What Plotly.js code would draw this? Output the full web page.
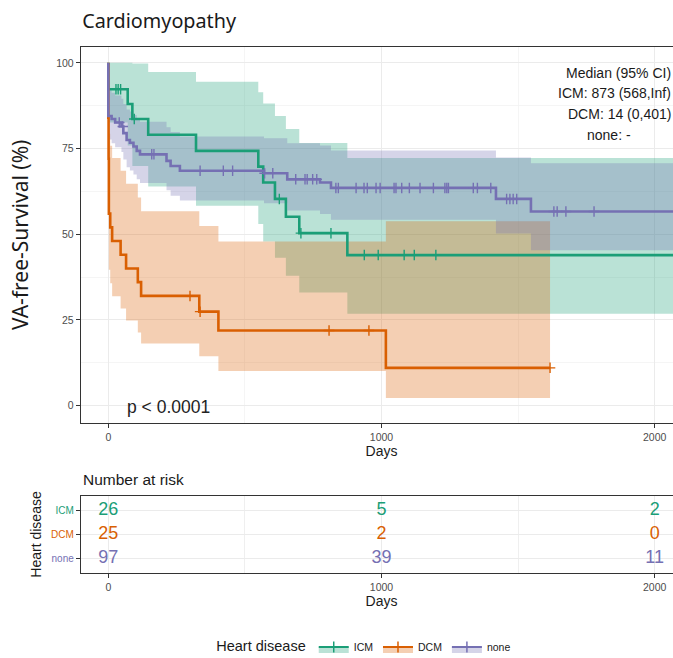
<!DOCTYPE html>
<html><head><meta charset="utf-8">
<script src="https://cdn.plot.ly/plotly-3.0.1.min.js"></script>
<style>html,body{margin:0;padding:0;overflow:hidden;background:#fff}#plot{width:700px;height:658px}</style>
</head><body><div id="plot"></div>
<script>
// ---------- data ----------
const groupNames = ['ICM', 'DCM', 'none'];
const groupColors = ['#1B9E77', '#D95F02', '#7570B3'];
const groupFills = ['rgba(27,158,119,0.3)', 'rgba(217,95,2,0.3)', 'rgba(117,112,179,0.3)'];

// ICM
const icmTime  = [0, 0, 71, 88, 146, 321, 549, 567, 610, 650, 699, 875, 2100];
const icmSurv  = [100, 92.3, 88.0, 83.6, 79.0, 74.3, 69.7, 65.1, 60.3, 55.1, 50.3, 43.9, 43.9];
const icmUpper = [100, 100, 100, 99.8, 97.3, 94.5, 91.4, 88.1, 84.5, 80.7, 76.6, 72.2, 72.2];
const icmLower = [100, 82.6, 75.9, 69.9, 63.9, 58.3, 53.0, 47.9, 43.1, 37.9, 33.0, 26.8, 26.8];
const icmCensorTime = [28, 36, 45, 95, 626, 705, 815, 937, 988, 1083, 1120, 1199];
const icmCensorSurv = [92.3, 92.3, 92.3, 83.6, 60.3, 50.3, 50.3, 43.9, 43.9, 43.9, 43.9, 43.9];

// DCM
const dcmTime  = [0, 0, 1, 2, 7, 14, 45, 65, 108, 120, 333, 403, 1016, 1617];
const dcmSurv  = [100, 84, 72, 56, 52, 48, 44, 40, 36, 32, 27.4, 21.9, 11.0, 11.0];
const dcmUpper = [100, 99.7, 91.9, 79.3, 75.8, 72.2, 68.5, 64.7, 60.7, 56.7, 52.4, 47.9, 53.8, 53.8];
const dcmLower = [100, 70.8, 56.4, 39.6, 35.7, 31.9, 28.3, 24.8, 21.3, 18.1, 14.4, 10.1, 2.2, 2.2];
const dcmCensorTime = [299, 336, 808, 954, 1617];
const dcmCensorSurv = [32, 27.4, 21.9, 21.9, 11.0];

// none
const noneTime  = [0, 0, 12, 25, 48, 55, 67, 79, 92, 104, 116, 213, 228, 262, 570, 655, 775, 815, 1419, 1547, 2100];
const noneSurv  = [100, 84.5, 83.6, 82.6, 81.4, 79.5, 77.5, 76.7, 75.6, 74.3, 73.3, 71.4, 69.9, 68.5, 67.8, 66.0, 65.1, 63.5, 60.3, 56.6, 56.6];
const noneUpper = [100, 92.0, 91.3, 90.5, 89.5, 88.0, 86.4, 85.8, 84.8, 83.6, 82.8, 81.2, 79.8, 78.5, 78.0, 76.5, 75.9, 74.4, 72.4, 70.7, 70.7];
const noneLower = [100, 77.6, 76.5, 75.4, 74.0, 71.8, 69.5, 68.6, 67.4, 66.0, 64.9, 62.8, 61.2, 59.8, 59.0, 56.9, 55.9, 54.2, 50.2, 45.3, 45.3];
const noneCensorTime = [40, 53, 159, 167, 336, 421, 455, 572, 602, 686, 720, 728, 748, 763,
  833, 842, 907, 936, 948, 980, 995, 1046, 1053, 1074, 1102, 1141, 1190, 1232, 1239, 1245, 1336, 1351, 1400,
  1458, 1470, 1482, 1495, 1631, 1643, 1675, 1778];
const noneCensorSurv = [82.6, 81.4, 73.3, 73.3, 68.5, 68.5, 68.5, 67.8, 67.8, 66.0, 66.0, 66.0, 66.0, 66.0,
  63.5, 63.5, 63.5, 63.5, 63.5, 63.5, 63.5, 63.5, 63.5, 63.5, 63.5, 63.5, 63.5, 63.5, 63.5, 63.5, 63.5, 63.5, 63.5,
  60.3, 60.3, 60.3, 60.3, 56.6, 56.6, 56.6, 56.6];

// Number at risk
const riskTimes = [0, 1000, 2000];
const riskICM  = [26, 5, 2];
const riskDCM  = [25, 2, 0];
const riskNone = [97, 39, 11];

// Medians
const medianLines = ['Median (95% CI)', 'ICM: 873 (568,Inf)', 'DCM: 14 (0,401)', 'none: -'];
const pText = 'p < 0.0001';

// ---------- build ----------
const series = [
  {t: icmTime, s: icmSurv, u: icmUpper, l: icmLower, ct: icmCensorTime, cs: icmCensorSurv, risk: riskICM, row: 3},
  {t: dcmTime, s: dcmSurv, u: dcmUpper, l: dcmLower, ct: dcmCensorTime, cs: dcmCensorSurv, risk: riskDCM, row: 2},
  {t: noneTime, s: noneSurv, u: noneUpper, l: noneLower, ct: noneCensorTime, cs: noneCensorSurv, risk: riskNone, row: 1}
];

const traces = [];
series.forEach((g, i) => {
  traces.push({x: g.t, y: g.u, type: 'scatter', mode: 'lines', line: {shape: 'hv', width: 0, color: 'rgba(0,0,0,0)'},
    showlegend: false, hoverinfo: 'skip', xaxis: 'x', yaxis: 'y'});
  traces.push({x: g.t, y: g.l, type: 'scatter', mode: 'lines', line: {shape: 'hv', width: 0, color: 'rgba(0,0,0,0)'},
    fill: 'tonexty', fillcolor: groupFills[i], showlegend: false, hoverinfo: 'skip', xaxis: 'x', yaxis: 'y'});
});
series.forEach((g, i) => {
  traces.push({x: g.t, y: g.s, type: 'scatter', mode: 'lines', line: {shape: 'hv', width: 2.6, color: groupColors[i]},
    showlegend: false, xaxis: 'x', yaxis: 'y'});
});
series.forEach((g, i) => {
  traces.push({x: g.ct, y: g.cs, type: 'scatter', mode: 'markers',
    marker: {symbol: 'cross-thin', size: 7.5, color: groupColors[i], line: {width: 1.4, color: groupColors[i]}},
    showlegend: false, xaxis: 'x', yaxis: 'y'});
});
series.forEach((g, i) => {
  traces.push({x: riskTimes, y: riskTimes.map(() => g.row), text: g.risk.map(String), type: 'scatter', mode: 'text',
    textfont: {family: 'Liberation Sans, Arial, sans-serif', size: 18, color: groupColors[i]},
    showlegend: false, xaxis: 'x2', yaxis: 'y2'});
});
// legend entries
groupNames.forEach((name, i) => {
  traces.push({x: [null], y: [null], type: 'scatter', mode: 'lines+markers', name: name,
    fill: 'toself', fillcolor: groupFills[i],
    line: {color: groupColors[i], width: 2},
    marker: {symbol: 'cross-thin', size: 8, color: groupColors[i], line: {width: 1.5, color: groupColors[i]}},
    xaxis: 'x', yaxis: 'y'});
});

const tickFont = {family: 'Liberation Sans, Arial, sans-serif', size: 10.5, color: '#4D4D4D'};
const gridC = '#EBEBEB';

const annotations = [];
const medY = [97.1, 91.2, 85.1, 79.0];
const medX = [2066, 2066, 2066, 1920];
medianLines.forEach((txt, i) => {
  annotations.push({text: txt, xref: 'x', yref: 'y', x: medX[i], y: medY[i], xanchor: 'right', yanchor: 'middle',
    showarrow: false, font: {family: 'Liberation Sans, Arial, sans-serif', size: 14, color: '#1a1a1a'}});
});
annotations.push({text: pText, xref: 'x', yref: 'y', x: 60, y: -0.5, xanchor: 'left', yanchor: 'middle', showarrow: false,
  font: {family: 'Liberation Sans, Arial, sans-serif', size: 17.5, color: '#222'}});
annotations.push({text: 'Number at risk', xref: 'paper', yref: 'paper', x: 0, y: 0.272, xanchor: 'left', yanchor: 'middle',
  showarrow: false, font: {family: 'Liberation Sans, Arial, sans-serif', size: 15.5, color: '#1a1a1a'}});

const rowTickText = groupNames.map((n, i) => '<span style="color:' + groupColors[i] + '">' + n + '</span>');

const layout = {
  width: 700, height: 658,
  margin: {l: 81, r: 18, t: 0, b: 0, autoexpand: false},
  paper_bgcolor: '#fff', plot_bgcolor: '#fff',
  title: {text: 'Cardiomyopathy', xref: 'paper', x: 0.002, xanchor: 'left', yref: 'container', y: 0.9685, yanchor: 'middle',
    font: {family: 'Noto Sans, Open Sans, sans-serif', size: 19.8, color: '#1a1a1a'}},
  xaxis: {domain: [0, 1], range: [-100, 2100], anchor: 'y', tickvals: [0, 1000, 2000], ticktext: ['0', '1000', '2000'],
    showgrid: true, gridcolor: gridC, gridwidth: 1, zeroline: false,
    minor: {tickvals: [500, 1500], showgrid: true, gridcolor: '#F3F3F3', gridwidth: 0.8, ticklen: 0},
    showline: true, mirror: true, linecolor: '#333', linewidth: 1.2,
    ticks: 'outside', ticklen: 4, tickcolor: '#333', tickfont: tickFont,
    title: {text: 'Days', standoff: 4, font: {family: 'Liberation Sans, Arial, sans-serif', size: 14, color: '#1a1a1a'}}},
  yaxis: {domain: [0.3571, 0.9290], range: [-5.1, 104.7], anchor: 'x', tickvals: [0, 25, 50, 75, 100],
    showgrid: true, gridcolor: gridC, gridwidth: 1, zeroline: false,
    minor: {tickvals: [12.5, 37.5, 62.5, 87.5], showgrid: true, gridcolor: '#F3F3F3', gridwidth: 0.8, ticklen: 0},
    showline: true, mirror: true, linecolor: '#333', linewidth: 1.2,
    ticks: 'outside', ticklen: 4, tickcolor: '#333', tickfont: tickFont,
    title: {text: 'VA-free-Survival (%)', standoff: 21, font: {family: 'Noto Sans, Open Sans, sans-serif', size: 21, color: '#1a1a1a'}}},
  xaxis2: {domain: [0, 1], range: [-100, 2100], anchor: 'y2', tickvals: [0, 1000, 2000], ticktext: ['0', '1000', '2000'],
    showgrid: true, gridcolor: gridC, gridwidth: 1, zeroline: false,
    minor: {tickvals: [500, 1500], showgrid: true, gridcolor: gridC, gridwidth: 0.8, ticklen: 0},
    showline: true, mirror: true, linecolor: '#333', linewidth: 1.2,
    ticks: 'outside', ticklen: 4, tickcolor: '#333', tickfont: tickFont,
    title: {text: 'Days', standoff: 3, font: {family: 'Liberation Sans, Arial, sans-serif', size: 14, color: '#1a1a1a'}}},
  yaxis2: {domain: [0.1292, 0.2462], range: [0.4, 3.6], anchor: 'x2', tickvals: [3, 2, 1], ticktext: rowTickText,
    showgrid: true, gridcolor: gridC, gridwidth: 1, zeroline: false,
    showline: true, mirror: true, linecolor: '#333', linewidth: 1.2,
    ticks: 'outside', ticklen: 4, tickcolor: '#333', tickfont: {family: 'Liberation Sans, Arial, sans-serif', size: 10, color: '#4D4D4D'},
    title: {text: 'Heart disease', standoff: 6, font: {family: 'Liberation Sans, Arial, sans-serif', size: 14, color: '#1a1a1a'}}},
  showlegend: true,
  legend: {orientation: 'h', traceorder: 'normal', x: 0.473, xanchor: 'center', y: 0.0167, yanchor: 'middle',
    title: {text: 'Heart disease', side: 'left', font: {family: 'Liberation Sans, Arial, sans-serif', size: 14.5, color: '#1a1a1a'}},
    font: {family: 'Liberation Sans, Arial, sans-serif', size: 10.5, color: '#1a1a1a'}, itemwidth: 30, bgcolor: 'rgba(0,0,0,0)'},
  annotations: annotations
};

Plotly.newPlot('plot', traces, layout, {staticPlot: true, displayModeBar: false});
</script></body></html>
